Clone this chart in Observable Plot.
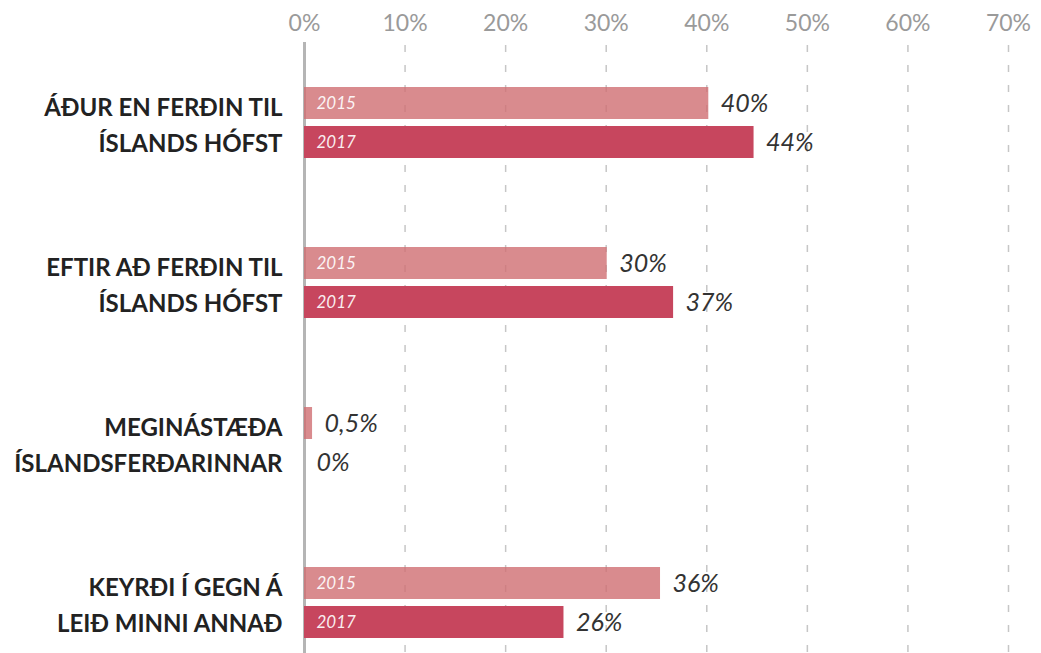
<!DOCTYPE html>
<html>
<head>
<meta charset="utf-8">
<script src="https://cdn.jsdelivr.net/npm/d3@7"></script>
<script src="https://cdn.jsdelivr.net/npm/@observablehq/plot@0.6"></script>
<style>
  html, body { margin: 0; padding: 0; background: #fff; }
  #chart svg { display: block; }
</style>
</head>
<body>
<div id="chart"></div>
<script>
const categories = [
  "ÁÐUR EN FERÐIN TIL\nÍSLANDS HÓFST",
  "EFTIR AÐ FERÐIN TIL\nÍSLANDS HÓFST",
  "MEGINÁSTÆÐA\nÍSLANDSFERÐARINNAR",
  "KEYRÐI Í GEGN Á\nLEIÐ MINNI ANNAÐ"
];
const years = ["2015", "2017"];
const values2015 = [40.2, 30.1, 0.8, 35.4];
const values2017 = [44.7, 36.7, 0, 25.8];
const labels2015 = ["40%", "30%", "0,5%", "36%"];
const labels2017 = ["44%", "37%", "0%", "26%"];
const xTicks = [0, 10, 20, 30, 40, 50, 60, 70];

const data = categories.flatMap((c, i) => [
  {cat: c, year: "2015", value: values2015[i], label: labels2015[i]},
  {cat: c, year: "2017", value: values2017[i], label: labels2017[i]}
]);

const chart = Plot.plot({
  width: 1041,
  height: 653,
  marginLeft: 304,
  marginRight: 33,
  marginTop: 42,
  marginBottom: 0,
  style: {fontFamily: "Lato, 'Open Sans', sans-serif", background: "#fff"},
  x: {domain: [0, 70], axis: null},
  fy: {domain: categories, range: [42, 682], padding: 0, axis: null},
  y: {domain: years, paddingInner: 0.18, paddingOuter: 1.14, axis: null},
  color: {domain: years, range: ["rgba(207,110,114,0.8)", "#c7465e"]},
  marks: [
    Plot.ruleX(xTicks.filter(d => d > 0), {
      stroke: "#c6c6c6", strokeWidth: 1.5,
      strokeDasharray: "7,13", strokeDashoffset: 17
    }),
    Plot.ruleX([0], {stroke: "#b5b5b5", strokeWidth: 3}),
    Plot.barX(data, {x: "value", y: "year", fy: "cat", fill: "year"}),
    Plot.axisX(xTicks, {
      anchor: "top", tickSize: 0, tickPadding: 12,
      tickFormat: d => d + "%", fontSize: 23, color: "#9a9a9a", label: null
    }),
    Plot.text(categories, {
      fy: d => d, text: d => d, frameAnchor: "left", textAnchor: "end",
      dx: -22, fontSize: 24, fontWeight: "bold", fill: "#222", lineHeight: 1.5
    }),
    Plot.text(data.filter(d => d.value > 5), {
      y: "year", fy: "cat", text: "year", frameAnchor: "left", textAnchor: "start",
      dx: 12, fontSize: 17, fontStyle: "italic", fill: "#fff", fillOpacity: 0.92
    }),
    Plot.text(data, {
      x: "value", y: "year", fy: "cat", text: "label", textAnchor: "start",
      dx: 12, fontSize: 25, fontStyle: "italic", fill: "#333"
    })
  ]
});
document.getElementById("chart").appendChild(chart);
</script>
</body>
</html>
